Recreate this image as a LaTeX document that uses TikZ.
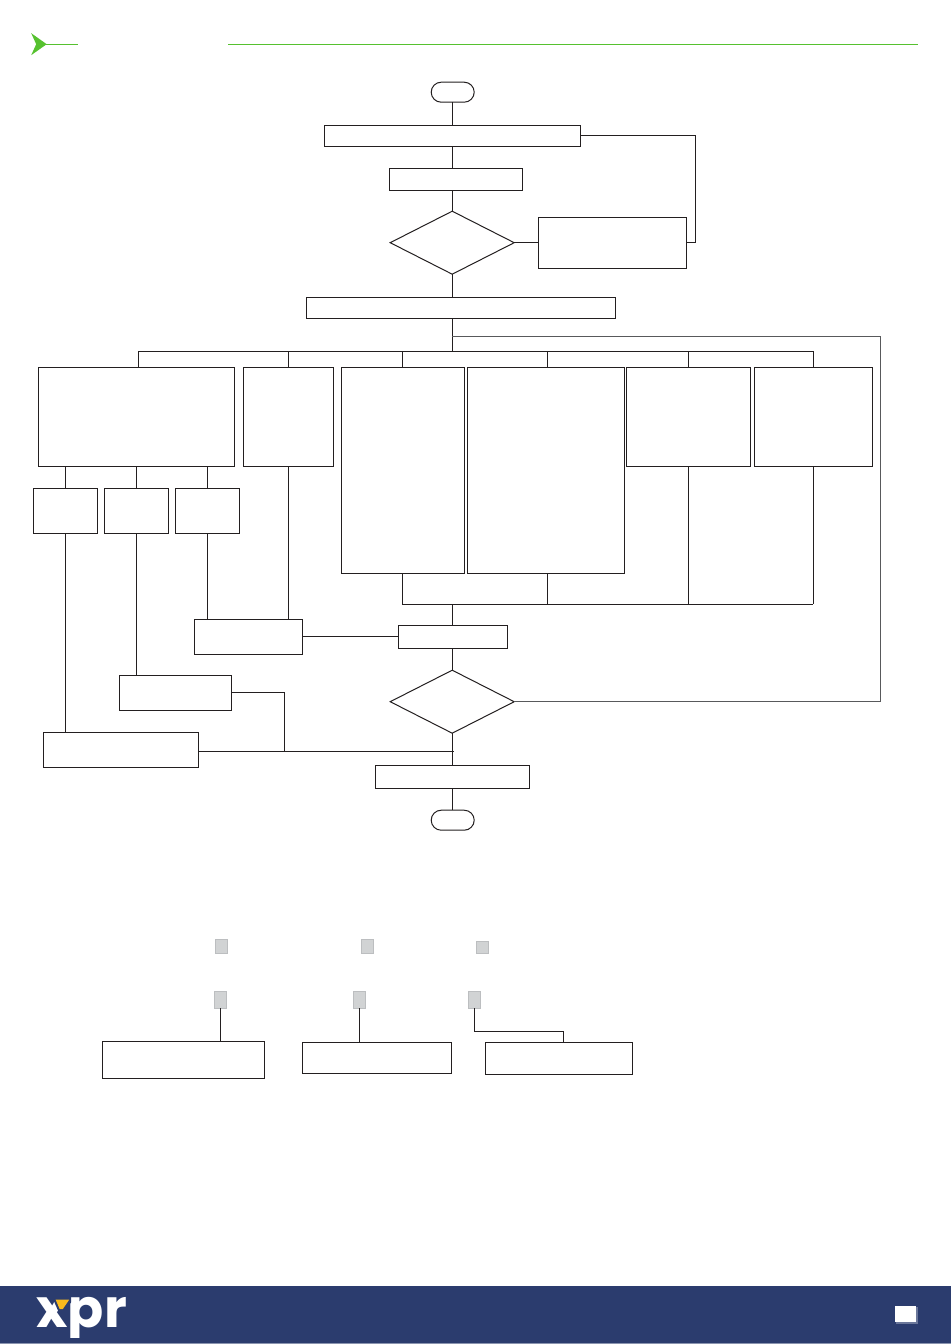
\documentclass[tikz,border=0pt]{standalone}
\usepackage{fontspec}
\usepackage{xcolor}
\usetikzlibrary{shapes.geometric}
\newfontfamily\logofont{Poppins}[Scale=1]
\definecolor{flowline}{HTML}{231F20}
\definecolor{backline}{HTML}{58595B}
\definecolor{headgreen}{HTML}{56C12F}
\definecolor{footblue}{HTML}{2B3C6E}
\definecolor{logoyellow}{HTML}{F9B91C}
\definecolor{padfill}{HTML}{D1D3D4}
\definecolor{padline}{HTML}{BCBEC0}
\tikzset{
  wh/.style 2 args={minimum width=#1*0.75pt, minimum height=#2*0.75pt},
  block/.style={draw=flowline, fill=white, line width=0.75pt, inner sep=0pt, outer sep=0pt},
  term/.style={block, rounded corners=7.5pt, wh={43}{20}},
  decide/.style={block, diamond, aspect=2, wh={124}{63}},
  pad/.style={draw=padline, fill=padfill, line width=0.75pt, inner sep=0pt, outer sep=0pt},
  conn/.style={draw=flowline, line width=0.75pt},
}
\begin{document}
\begin{tikzpicture}[x=0.75pt, y=-0.75pt, shift={(0.2,0.2)}, line join=miter]
\useasboundingbox (-0.2,-0.2) rectangle (949.8,1343.8);

% header
\fill[headgreen] (31,33) -- (46.5,44) -- (31,55) -- (36,44) -- cycle;
\draw[headgreen, line width=0.75pt] (46,44) -- (78,44);
\draw[headgreen, line width=0.75pt] (228,44) -- (918,44);

% flow, top part
\node[term] (start) at (452.5,92) {};
\node[block, wh={256}{21}] (login) at (452,135.5) {};
\node[block, wh={133}{22}] (enter) at (455.5,179) {};
\node[decide] (check) at (452,242.5) {};
\node[block, wh={148}{51}] (retry) at (612,242.5) {};
\node[block, wh={309}{21}] (menu) at (460.5,307.5) {};

% option boxes
\node[block, wh={196}{99}] (optA) at (136,416.5) {};
\node[block, wh={90}{99}] (optB) at (288,416.5) {};
\node[block, wh={123}{206}] (optC) at (402.5,470) {};
\node[block, wh={157}{206}] (optD) at (545.5,470) {};
\node[block, wh={124}{99}] (optE) at (688,416.5) {};
\node[block, wh={118}{99}] (optF) at (813,416.5) {};
\node[block, wh={64}{45}] (subA) at (65,510.5) {};
\node[block, wh={64}{45}] (subB) at (136,510.5) {};
\node[block, wh={64}{45}] (subC) at (207,510.5) {};

% results
\node[block, wh={108}{35}] (saveB) at (248,636.5) {};
\node[block, wh={109}{23}] (save) at (452.5,636.5) {};
\node[block, wh={112}{35}] (saveC) at (175,692.5) {};
\node[block, wh={155}{35}] (saveD) at (120.5,749.5) {};
\node[decide] (again) at (452,701.5) {};
\node[block, wh={154}{23}] (leave) at (452,776.5) {};
\node[term] (stop) at (452.5,820) {};

% bus lines
\coordinate (mid) at (452,0);
\coordinate (busTop) at (0,351);
\coordinate (busLow) at (0,604);
\coordinate (backOut) at (0,336);
\coordinate (backRight) at (880.5,0);
\coordinate (retryRight) at (695,0);
\coordinate (joinRight) at (284,0);
\coordinate (joinEnd) at (454,751);
\coordinate (tapA) at (138,0);
\coordinate (tapC) at (402,0);
\coordinate (tapD) at (547,0);

\draw[conn] (mid |- start.south) -- (mid |- login.north);
\draw[conn] (mid |- login.south) -- (mid |- enter.north);
\draw[conn] (mid |- enter.south) -- (check.north);
\draw[conn] (check.south) -- (mid |- menu.north);
\draw[conn] (check.east) -- (retry.west);
\draw[conn] (login.east) -| (retryRight |- retry.east) -- (retry.east);
\draw[conn] (mid |- menu.south) -- (mid |- busTop);
\draw[conn] (tapA |- busTop) -- (optF.north |- busTop);

% drops to the options
\draw[conn] (tapA |- busTop) -- (tapA |- optA.north);
\foreach \n in {optB,optC,optE,optF}
  \draw[conn] (\n.north |- busTop) -- (\n.north);
\draw[conn] (tapD |- busTop) -- (tapD |- optD.north);

% sub boxes
\foreach \n in {subA,subB,subC}
  \draw[conn] (\n.north |- optA.south) -- (\n.north);
\draw[conn] (subA.south) -- (subA.south |- saveD.north);
\draw[conn] (subB.south) -- (subB.south |- saveC.north);
\draw[conn] (subC.south) -- (subC.south |- saveB.north);
\draw[conn] (optB.south) -- (optB.south |- saveB.north);
\draw[conn] (saveB.east) -- (saveB.east -| save.west);

% lower bus
\draw[conn] (tapC |- optC.south) -- (tapC |- busLow);
\draw[conn] (tapD |- optD.south) -- (tapD |- busLow);
\draw[conn] (optE.south) -- (optE.south |- busLow);
\draw[conn] (optF.south) -- (optF.south |- busLow);
\draw[conn] (tapC |- busLow) -- (optF.south |- busLow);
\draw[conn] (mid |- busLow) -- (mid |- save.north);
\draw[conn] (mid |- save.south) -- (again.north);
\draw[conn] (again.south) -- (mid |- leave.north);
\draw[conn] (mid |- leave.south) -- (mid |- stop.north);

% back to the menu
\draw[backline, line width=0.75pt] (mid |- backOut) -- (backRight |- backOut) -- (backRight |- again.east) -- (again.east);

% join into exit
\draw[conn] (saveD.east |- joinEnd) -- (joinEnd);
\draw[conn] (saveC.east) -| (joinRight |- joinEnd);

% pads
\node[pad, wh={12}{14}] (padA) at (221,946) {};
\node[pad, wh={12}{14}] (padB) at (367,946) {};
\node[pad, wh={12}{12}] (padC) at (482,947) {};
\node[pad, wh={12}{17}] (padD) at (220.5,999.5) {};
\node[pad, wh={12.5}{17}] (padE) at (359.5,999.5) {};
\node[pad, wh={12.5}{17}] (padF) at (474.5,999.5) {};
\node[block, wh={162}{37}] (noteD) at (183,1059.5) {};
\node[block, wh={149}{31}] (noteE) at (376.5,1057.5) {};
\node[block, wh={147}{32}] (noteF) at (558.5,1058) {};
\draw[conn] (padD.south) -- (padD.south |- noteD.north);
\draw[conn] (padE.south) -- (padE.south |- noteE.north);
\draw[conn] (padF.south) |- (563,1031) -- (563,1043);

% footer
\fill[footblue] (-1,1285.7) rectangle (951,1345);
\fill[footblue!55!white] (-1,1342.7) rectangle (951,1345);
\node[inner sep=0pt, anchor=base west, text=white, font=\logofont\bfseries\fontsize{40}{40}\selectfont] (logo) at (36,1327.5) {xpr};
\fill[footblue] (52,1297) -- (71,1297) -- (71,1302) -- (62,1313) -- (59,1313) -- cycle;
\fill[footblue] (70,1337.5) rectangle (102,1342);
\fill[logoyellow] (55.5,1299.5) -- (69,1299.5) -- (62.5,1309) -- (59.5,1309) -- cycle;
\fill[footblue!70!white] (895.5,1306.5) rectangle (917.5,1323.5);
\node[fill=white, inner sep=0pt, outer sep=0pt, wh={21.5}{16.5}] (pageNo) at (905.5,1314) {};
\end{tikzpicture}
\end{document}
